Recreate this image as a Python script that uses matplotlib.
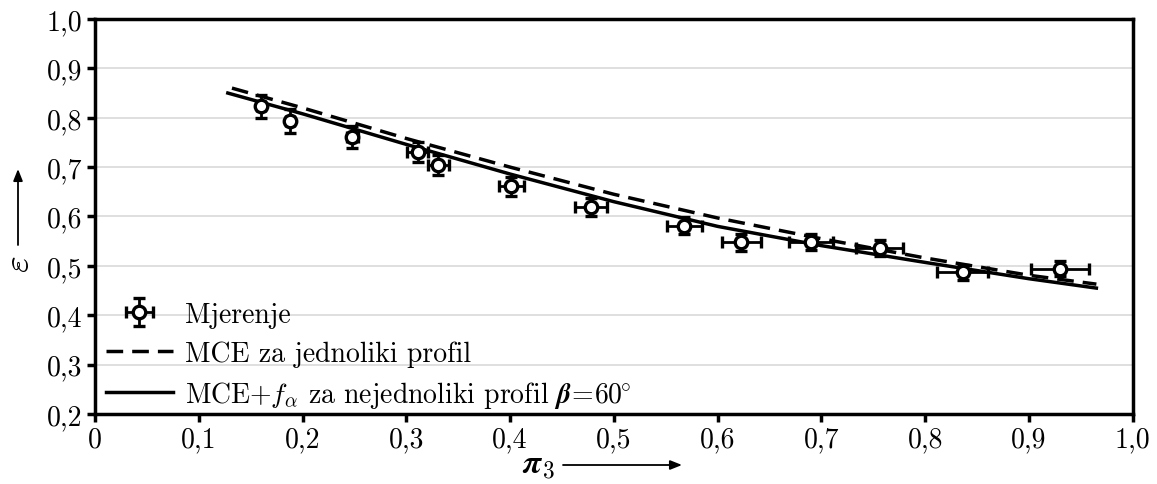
import matplotlib
matplotlib.use("Agg")
import matplotlib.pyplot as plt
import numpy as np
from matplotlib.ticker import FuncFormatter

plt.rcParams['font.family'] = ['cmr10', 'DejaVu Serif']
plt.rcParams['mathtext.fontset'] = 'cm'
plt.rcParams['axes.unicode_minus'] = False

# measured points
pi3 = [0.160, 0.188, 0.248, 0.311, 0.331, 0.401, 0.478, 0.568, 0.623, 0.690, 0.756, 0.836, 0.930]
eps = [0.823, 0.793, 0.761, 0.730, 0.704, 0.661, 0.620, 0.581, 0.548, 0.549, 0.537, 0.487, 0.494]
pi3_err = [0.004, 0.004, 0.005, 0.010, 0.010, 0.012, 0.015, 0.017, 0.019, 0.021, 0.023, 0.025, 0.028]
eps_err = [0.024, 0.024, 0.022, 0.020, 0.020, 0.019, 0.018, 0.017, 0.017, 0.016, 0.016, 0.015, 0.015]

# model curves
x_dash = [0.132, 0.2, 0.3, 0.4, 0.5, 0.6, 0.7, 0.8, 0.9, 0.965]
y_dash = [0.860, 0.820, 0.758, 0.700, 0.645, 0.597, 0.555, 0.516, 0.481, 0.463]
x_solid = [0.128, 0.2, 0.3, 0.4, 0.5, 0.6, 0.7, 0.8, 0.9, 0.965]
y_solid = [0.850, 0.808, 0.746, 0.686, 0.630, 0.580, 0.541, 0.507, 0.474, 0.455]

fig = plt.figure(figsize=(11.57, 4.85), dpi=100)
ax = fig.add_axes([0.0821, 0.1443, 0.8969, 0.8145])

ax.plot(x_dash, y_dash, color='black', lw=2.5, ls=(0, (4.8, 2.6)),
        label='MCE za jednoliki profil', zorder=3)
ax.plot(x_solid, y_solid, color='black', lw=2.5, ls='-',
        label=r'MCE+$f_{\alpha}$ za nejednoliki profil $\boldsymbol{\beta\!=\!60}^{\!\boldsymbol{\circ}}$', zorder=3)
ax.errorbar(pi3, eps, xerr=pi3_err, yerr=eps_err, fmt='o', ms=9, mfc='white',
            mec='black', mew=2.4, ecolor='black', elinewidth=2.0, capsize=4,
            capthick=2.0, label='Mjerenje', zorder=4)

ax.set_xlim(0, 1.0)
ax.set_ylim(0.2, 1.0)
ax.set_xticks(np.arange(0, 1.01, 0.1))
ax.set_yticks(np.arange(0.2, 1.01, 0.1))
fmt = FuncFormatter(lambda v, p: '0' if abs(v) < 1e-9 else f'{v:.1f}'.replace('.', ','))
ax.xaxis.set_major_formatter(fmt)
ax.yaxis.set_major_formatter(fmt)
ax.tick_params(axis='both', labelsize=20, width=2.5, length=6, direction='out', pad=3)
ax.grid(axis='y', color='#d9d9d9', lw=1.2)
ax.set_axisbelow(True)
for s in ax.spines.values():
    s.set_linewidth(2.5)

# axis labels with long arrows (figure pixel coords / size)
W, H = 1157, 485
fig.text(538 / W, 1 - 466 / H, r'$\boldsymbol{\pi}_3$', fontsize=24, ha='center', va='center')
fig.patches.append(matplotlib.patches.FancyArrowPatch(
    (563 / W, 1 - 466 / H), (682 / W, 1 - 466 / H), transform=fig.transFigure,
    arrowstyle='-|>,head_length=7,head_width=2.8', lw=1.3, color='black',
    mutation_scale=1, shrinkA=0, shrinkB=0))
fig.text(20 / W, 1 - 264 / H, r'$\varepsilon$', fontsize=26, rotation=90, ha='center', va='center')
fig.patches.append(matplotlib.patches.FancyArrowPatch(
    (18 / W, 1 - 246 / H), (18 / W, 1 - 170 / H), transform=fig.transFigure,
    arrowstyle='-|>,head_length=7,head_width=2.8', lw=1.3, color='black',
    mutation_scale=1, shrinkA=0, shrinkB=0))

h, l = ax.get_legend_handles_labels()
order = [2, 0, 1]
ax.legend([h[i] for i in order], [l[i] for i in order], loc='lower left',
          bbox_to_anchor=(0.0, -0.018), frameon=False, fontsize=20,
          handlelength=2.4, labelspacing=0.45, borderaxespad=0.0,
          handletextpad=0.45)

fig.savefig('out.png', dpi=100)
